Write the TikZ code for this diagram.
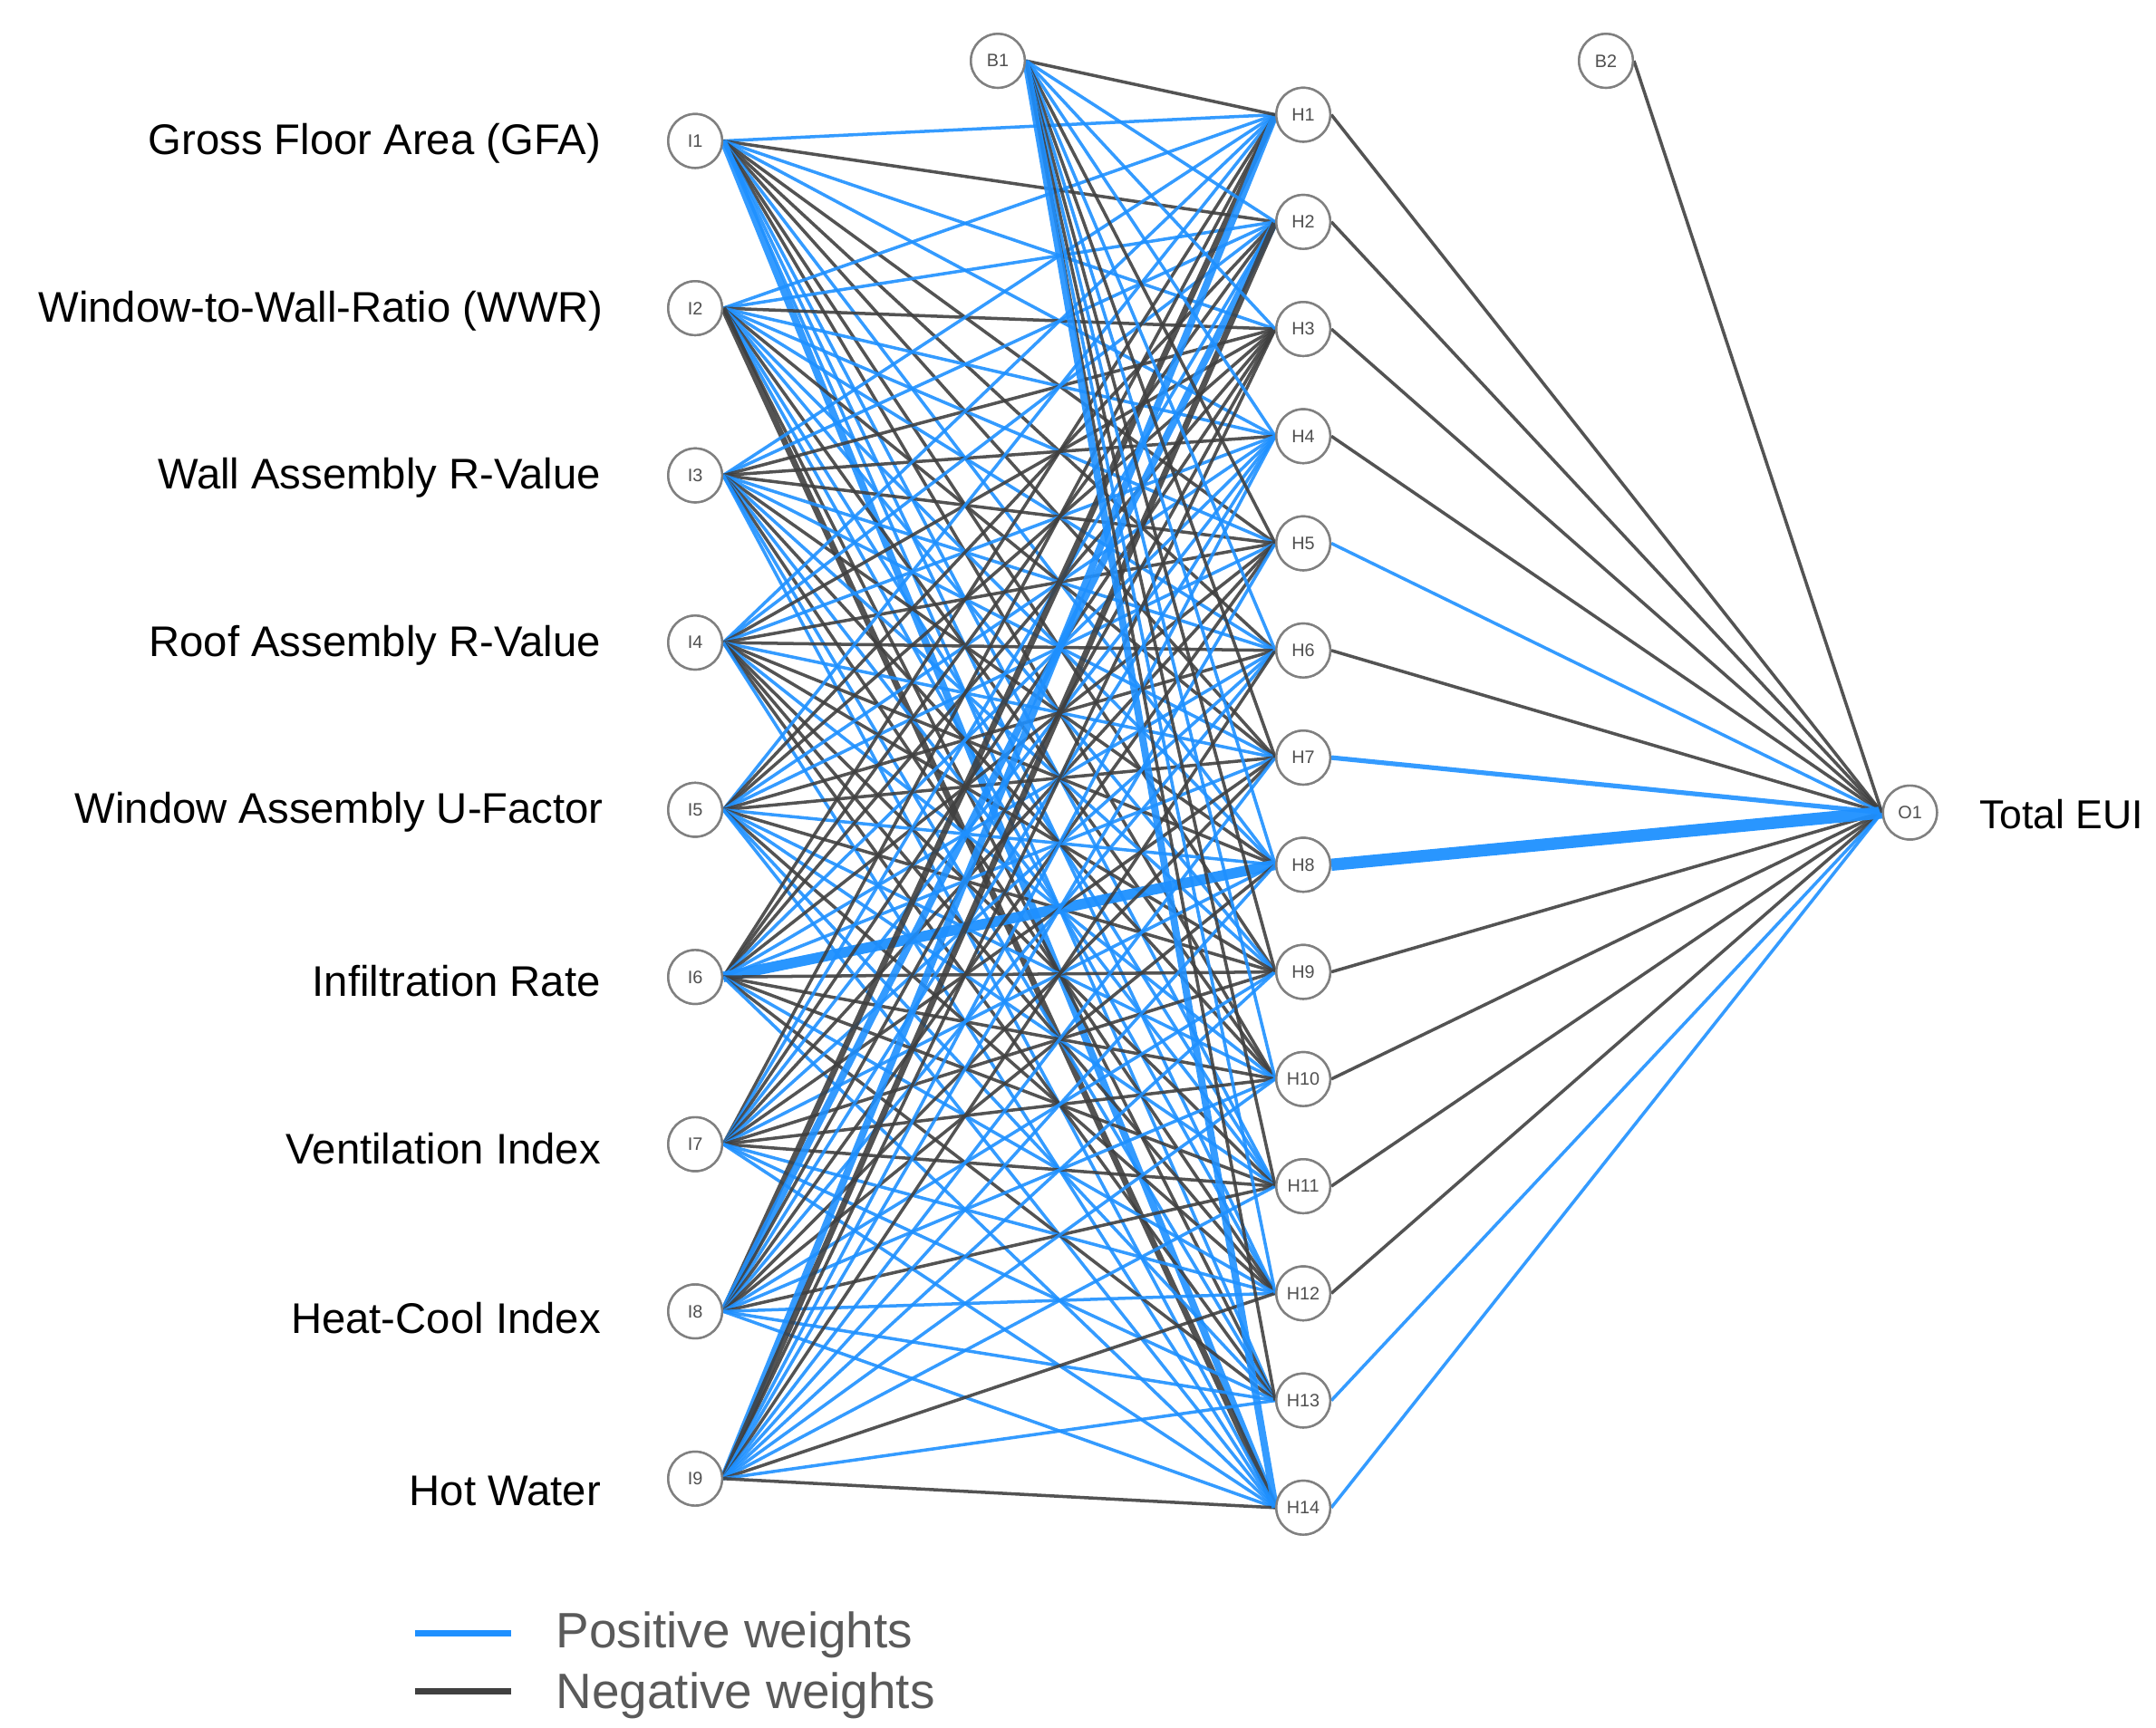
\documentclass[tikz,border=0pt]{standalone}
\usepackage{fontspec}
\setmainfont{Liberation Sans}
\definecolor{posblue}{RGB}{30,144,255}
\definecolor{negcol}{RGB}{64,64,64}
\definecolor{nodeline}{RGB}{128,128,128}
\definecolor{nodetext}{RGB}{80,80,80}
\definecolor{legtext}{RGB}{90,90,90}
\begin{document}
\begin{tikzpicture}[x=0.5pt,y=-0.5pt,
  nn/.style={circle,draw=nodeline,line width=0.8pt,fill=white,minimum size=19.5pt,inner sep=0pt,
    font=\fontsize{6.5}{7}\selectfont,text=nodetext},
  lbl/.style={font=\fontsize{15.5}{18}\selectfont,text=black,inner sep=0pt},
  ep/.style={draw=posblue,line width=1.15pt,opacity=0.9},
  en/.style={draw=negcol,line width=1.15pt,opacity=0.9},
  eP/.style={draw=posblue,line width=2.6pt,opacity=0.9},
  eN/.style={draw=negcol,line width=2.2pt,opacity=0.9},
  eW/.style={draw=posblue,line width=3.8pt,opacity=0.95},
  leg/.style={font=\fontsize{18}{21}\selectfont,text=legtext,inner sep=0pt,anchor=west}]
\useasboundingbox (0,0) rectangle (1560,1250);

% input nodes
\foreach \k in {1,...,9} {
  \node[nn] (I\k) at (503,{102+121*(\k-1)}) {I\k};
}
% hidden nodes
\foreach \j in {1,...,14} {
  \node[nn] (H\j) at (943,{83+77.54*(\j-1)}) {H\j};
}
\node[nn] (B1) at (722,44) {B1};
\node[nn] (B2) at (1162,44) {B2};
\node[nn] (O1) at (1382,588) {O1};

% edges input -> hidden
\foreach \src/\codes in {
  I1/{p,n,p,p,n,n,n,p,n,n,p,p,p,P},
  I2/{p,p,n,p,p,p,n,p,p,n,p,p,n,N},
  I3/{p,p,n,n,n,p,p,n,p,n,p,n,p,p},
  I4/{p,p,n,p,n,n,p,n,n,p,n,n,n,p},
  I5/{p,n,n,p,p,n,n,p,n,p,p,n,p,p},
  I6/{n,n,n,p,n,p,p,W,n,n,n,p,n,p},
  I7/{n,p,n,p,n,p,n,p,n,n,n,p,p,p},
  I8/{N,P,n,p,n,p,n,n,p,p,n,p,p,p},
  I9/{P,N,n,p,p,n,p,p,p,p,p,n,p,n},
  B1/{n,p,p,p,n,p,n,p,n,p,n,p,n,P}} {
  \foreach \c [count=\j] in \codes {
    \draw[e\c] (\src.east) -- (H\j.west);
  }
}
% hidden -> output
\foreach \j/\c in {1/n,2/n,3/n,4/n,5/p,6/n,9/n,10/n,11/n,12/n,13/p,14/p} {
  \draw[e\c] (H\j.east) -- (O1.west);
}
\draw[ep,line width=1.7pt] (H7.east) -- (O1.west);
\draw[eW,line width=4.4pt] (H8.east) -- (O1.west);
\draw[en] (B2.east) -- (O1.west);

% redraw nodes on top
\foreach \k in {1,...,9} {
  \node[nn] at (I\k) {I\k};
}
\foreach \j in {1,...,14} {
  \node[nn] at (H\j) {H\j};
}
\node[nn] at (B1) {B1};
\node[nn] at (B2) {B2};
\node[nn] at (O1) {O1};

% labels
\node[lbl,anchor=east] (L1) at (435,104) {Gross Floor Area (GFA)};
\node[lbl,anchor=east] (L2) at (437,225) {Window-to-Wall-Ratio (WWR)};
\node[lbl,anchor=east] (L3) at (435,346) {Wall Assembly R-Value};
\node[lbl,anchor=east] (L4) at (435,467) {Roof Assembly R-Value};
\node[lbl,anchor=east] (L5) at (437,588) {Window Assembly U-Factor};
\node[lbl,anchor=east] (L6) at (435,710) {Infiltration Rate};
\node[lbl,anchor=east] (L7) at (435,831) {Ventilation Index};
\node[lbl,anchor=east] (L8) at (435,954) {Heat-Cool Index};
\node[lbl,anchor=east] (L9) at (435,1079) {Hot Water};
\node[lbl,anchor=west,font=\fontsize{14.6}{17}\selectfont] (LO) at (1432,589) {Total EUI};

% legend
\coordinate (lp1) at (300,1182);
\coordinate (lp2) at (370,1182);
\coordinate (ln1) at (300,1224);
\coordinate (ln2) at (370,1224);
\draw[posblue,line width=2.4pt] (lp1) -- (lp2);
\draw[negcol,line width=2.4pt] (ln1) -- (ln2);
\node[leg] (tp) at (402,1183) {Positive weights};
\node[leg] (tn) at (402,1227) {Negative weights};
\end{tikzpicture}
\end{document}
